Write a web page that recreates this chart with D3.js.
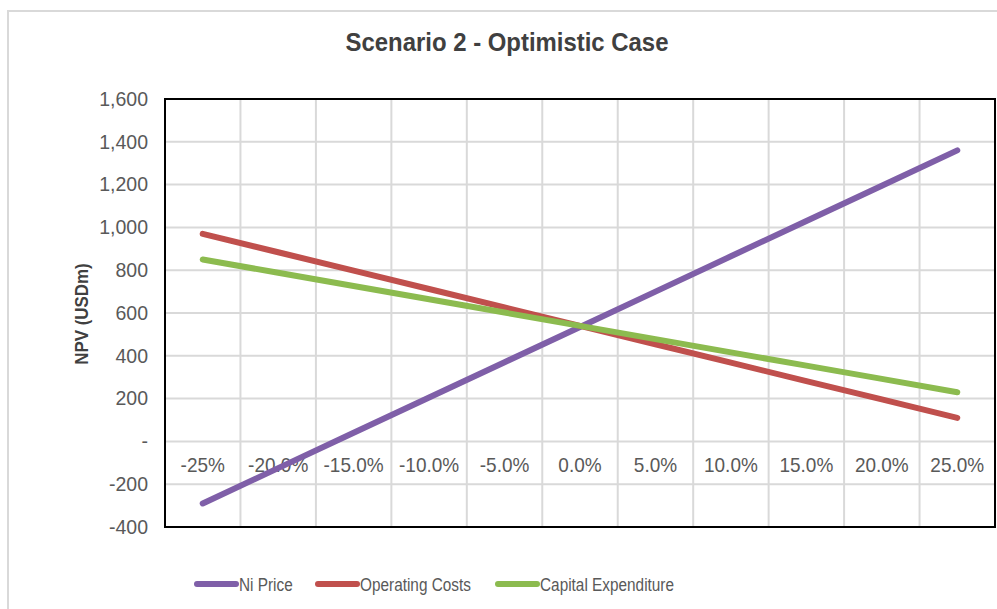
<!DOCTYPE html>
<html>
<head>
<meta charset="utf-8">
<script src="https://cdn.jsdelivr.net/npm/d3@7/dist/d3.min.js"></script>
<style>
  html, body { margin: 0; padding: 0; background: #fff; }
  svg { display: block; font-family: "Liberation Sans", Arial, sans-serif; }
</style>
</head>
<body>
<svg id="chart" width="997" height="609"></svg>
<script>
// Sensitivity steps (category axis)
const categories = ["-25%", "-20.0%", "-15.0%", "-10.0%", "-5.0%", "0.0%", "5.0%", "10.0%", "15.0%", "20.0%", "25.0%"];

// NPV (USDm) for each sensitivity step
const niPrice        = [-290, -125, 40, 205, 370, 535, 700, 865, 1030, 1195, 1360];
const operatingCosts = [970, 884, 798, 712, 626, 540, 454, 368, 282, 196, 110];
const capitalExpend  = [850, 788, 726, 664, 602, 540, 478, 416, 354, 292, 230];

const seriesNames  = ["Ni Price", "Operating Costs", "Capital Expenditure"];
const seriesColors = ["#7f5fa8", "#c0504d", "#8cbb4f"];
const yTicks = [-400, -200, 0, 200, 400, 600, 800, 1000, 1200, 1400, 1600];

const series = [niPrice, operatingCosts, capitalExpend].map((values, i) => ({
  name: seriesNames[i], color: seriesColors[i], values
}));

const svg = d3.select("#chart");
const plot = { left: 165, right: 995, top: 99, bottom: 527 };

// Outer chart frame
svg.append("path")
  .attr("d", "M8,612 L8,11 L1000,11")
  .attr("fill", "none").attr("stroke", "#d9d9d9").attr("stroke-width", 2);

const x = d3.scaleBand().domain(categories).range([plot.left, plot.right]).paddingInner(0).paddingOuter(0);
const y = d3.scaleLinear().domain([-400, 1600]).range([plot.bottom, plot.top]);

// Horizontal gridlines
svg.append("g").selectAll("line").data(yTicks).join("line")
  .attr("x1", plot.left).attr("x2", plot.right)
  .attr("y1", d => y(d)).attr("y2", d => y(d))
  .attr("stroke", "#d9d9d9").attr("stroke-width", 2);

// Vertical gridlines at category boundaries
svg.append("g").selectAll("line").data(categories.slice(1)).join("line")
  .attr("x1", d => x(d)).attr("x2", d => x(d))
  .attr("y1", plot.top).attr("y2", plot.bottom)
  .attr("stroke", "#d9d9d9").attr("stroke-width", 2);

// Plot border
svg.append("rect")
  .attr("x", plot.left).attr("y", plot.top)
  .attr("width", plot.right - plot.left).attr("height", plot.bottom - plot.top)
  .attr("fill", "none").attr("stroke", "#000").attr("stroke-width", 2);

// Y axis labels (zero shown as a dash, negatives with a plain hyphen)
const yAxis = d3.axisLeft(y).tickValues(yTicks).tickSize(0).tickPadding(17)
  .tickFormat(d => d === 0 ? "-" : (d < 0 ? "-" : "") + d3.format(",")(Math.abs(d)));
const yg = svg.append("g").attr("transform", `translate(${plot.left},0)`).call(yAxis);
yg.select(".domain").remove();
yg.selectAll("text").attr("fill", "#595959").attr("font-size", 19.5)
  .attr("font-family", "Liberation Sans, Arial, sans-serif");

// Category labels sitting below the zero line
const xAxis = d3.axisBottom(x).tickSize(0).tickPadding(16);
const xg = svg.append("g").attr("transform", `translate(0,${y(0)})`).call(xAxis);
xg.select(".domain").remove();
xg.selectAll("text").attr("fill", "#595959").attr("font-size", 20)
  .attr("font-family", "Liberation Sans, Arial, sans-serif")
  .attr("transform", "scale(0.95,1)");

// Series lines
const line = d3.line()
  .x((d, i) => x(categories[i]) + x.bandwidth() / 2)
  .y(d => y(d));

svg.append("g").selectAll("path").data(series).join("path")
  .attr("d", d => line(d.values))
  .attr("fill", "none")
  .attr("stroke", d => d.color)
  .attr("stroke-width", 6)
  .attr("stroke-linecap", "round");

// Title
svg.append("text")
  .attr("transform", "translate(507,51) scale(0.92,1)")
  .attr("text-anchor", "middle")
  .attr("font-size", 26).attr("font-weight", "bold").attr("fill", "#404040")
  .text("Scenario 2 - Optimistic Case");

// Y axis title
svg.append("text")
  .attr("transform", "translate(88,314) rotate(-90) scale(0.94,1)")
  .attr("text-anchor", "middle")
  .attr("font-size", 18).attr("font-weight", "bold").attr("fill", "#404040")
  .text("NPV (USDm)");

// Legend
const legendX = [197, 318, 498];
const lg = svg.append("g").selectAll("g").data(series).join("g")
  .attr("transform", (d, i) => `translate(${legendX[i]},584)`);
lg.append("line")
  .attr("x1", 0).attr("x2", 39).attr("y1", 0).attr("y2", 0)
  .attr("stroke", d => d.color).attr("stroke-width", 6).attr("stroke-linecap", "round");
lg.append("text")
  .attr("transform", "translate(42,6.5) scale(0.83,1)")
  .attr("font-size", 18.5).attr("fill", "#595959")
  .text(d => d.name);
</script>
</body>
</html>
